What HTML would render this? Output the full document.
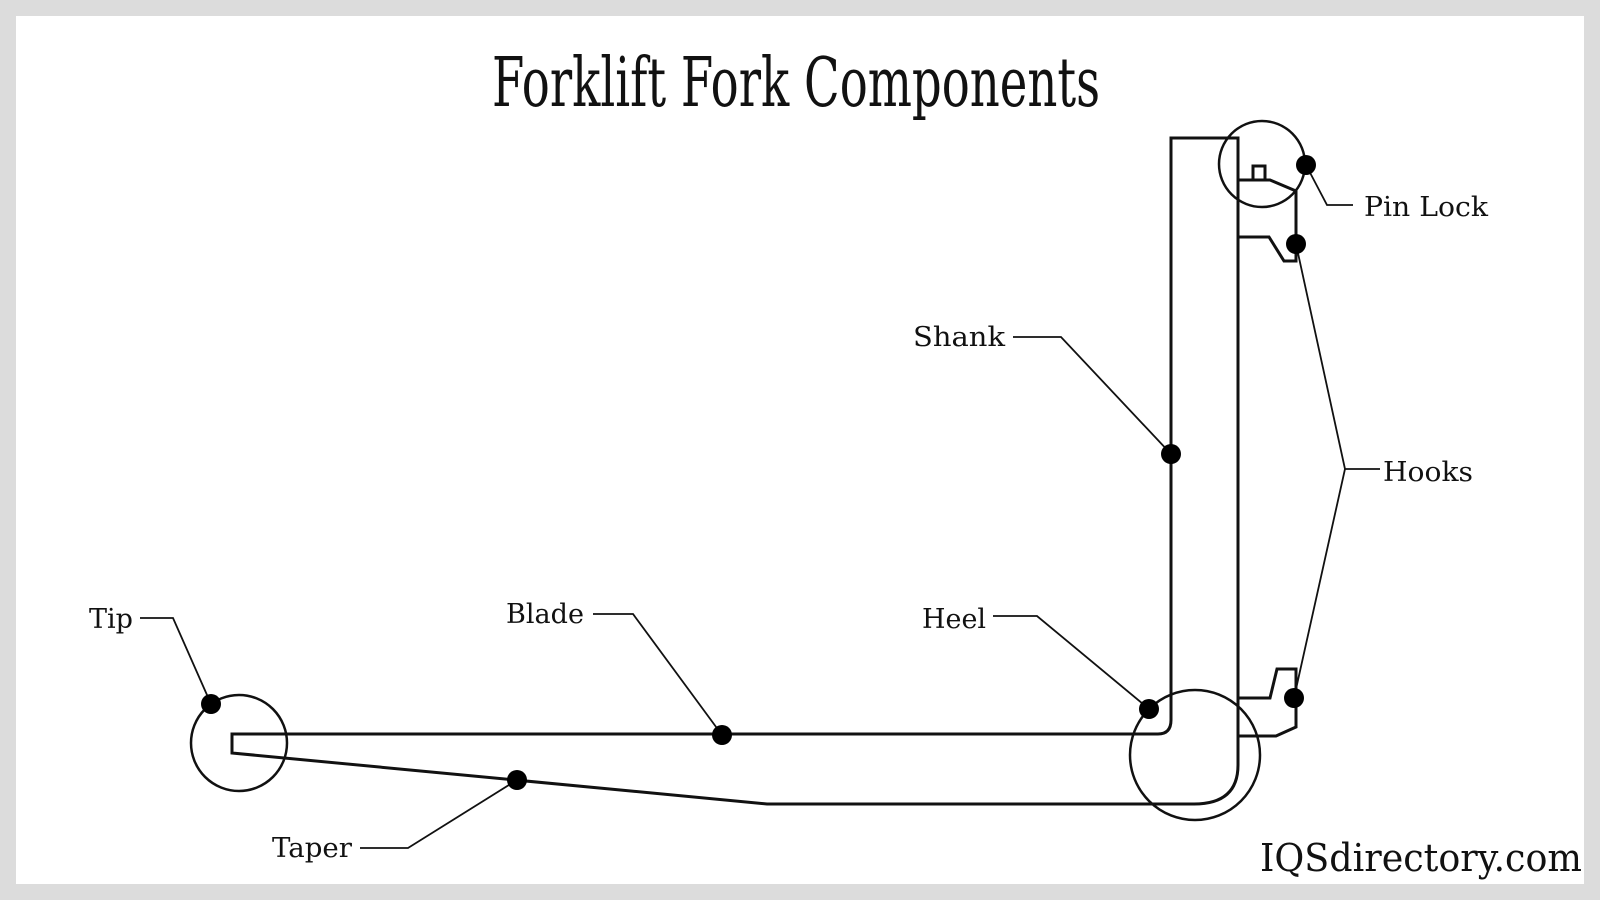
<!DOCTYPE html>
<html><head><meta charset="utf-8"><style>html,body{margin:0;padding:0;background:#dcdcdc}svg{display:block}</style></head><body>
<svg width="1600" height="900" viewBox="0 0 1600 900" xmlns="http://www.w3.org/2000/svg">
<rect x="0" y="0" width="1600" height="900" fill="#dcdcdc"/>
<rect x="16" y="16" width="1568" height="868" fill="#fff"/>
<text x="492" y="106" font-family="DejaVu Serif, Liberation Serif, serif" font-size="68" textLength="608" lengthAdjust="spacingAndGlyphs" fill="#111">Forklift Fork Components</text>
<g fill="none" stroke="#111" stroke-width="3" stroke-linejoin="miter">
<path d="M232,734 L1158,734 Q1171,734 1171,720 L1171,138 L1238,138 L1238,765 Q1238,804 1194,804 L767,804 L232,753 Z"/>
<path d="M1238,180 L1270,180 L1296,191 L1296,261 L1284,261 L1269,237 L1238,237"/>
<path d="M1253,180 L1253,166 L1265,166 L1265,180"/>
<path d="M1238,698 L1270,698 L1277,669 L1296,669 L1296,727 L1276,736 L1238,736"/>
</g>
<g fill="none" stroke="#111" stroke-width="2.5">
<circle cx="239" cy="743" r="48"/>
<circle cx="1195" cy="755" r="65"/>
<circle cx="1262" cy="164" r="43"/>
</g>
<g fill="none" stroke="#111" stroke-width="1.8">
<polyline points="1306,165 1327,205 1353,205"/>
<polyline points="1296,244 1345,469 1294,698"/>
<line x1="1345" y1="469" x2="1380" y2="469"/>
<polyline points="1013,337 1061,337 1171,454"/>
<polyline points="993,616 1037,616 1149,709"/>
<polyline points="593,614 633,614 722,735"/>
<polyline points="140,618 173,618 211,704"/>
<polyline points="360,848 408,848 517,780"/>
</g>
<g fill="#000">
<circle cx="1306" cy="165" r="10"/><circle cx="1296" cy="244" r="10"/><circle cx="1294" cy="698" r="10"/>
<circle cx="1171" cy="454" r="10"/><circle cx="1149" cy="709" r="10"/><circle cx="722" cy="735" r="10"/>
<circle cx="517" cy="780" r="10"/><circle cx="211" cy="704" r="10"/>
</g>
<g font-family="DejaVu Serif, Liberation Serif, serif" font-size="27" fill="#111" lengthAdjust="spacingAndGlyphs">
<text x="1364" y="216" textLength="124" lengthAdjust="spacingAndGlyphs">Pin Lock</text>
<text x="1383" y="481" textLength="90" lengthAdjust="spacingAndGlyphs">Hooks</text>
<text x="913" y="346" textLength="92" lengthAdjust="spacingAndGlyphs">Shank</text>
<text x="922" y="628" textLength="64" lengthAdjust="spacingAndGlyphs">Heel</text>
<text x="506" y="623" textLength="78" lengthAdjust="spacingAndGlyphs">Blade</text>
<text x="89" y="628" textLength="44" lengthAdjust="spacingAndGlyphs">Tip</text>
<text x="272" y="857" textLength="80" lengthAdjust="spacingAndGlyphs">Taper</text>
</g>
<text x="1260" y="871" font-family="DejaVu Serif, Liberation Serif, serif" font-size="38" textLength="322" lengthAdjust="spacingAndGlyphs" fill="#111">IQSdirectory.com</text>
</svg>
</body></html>
